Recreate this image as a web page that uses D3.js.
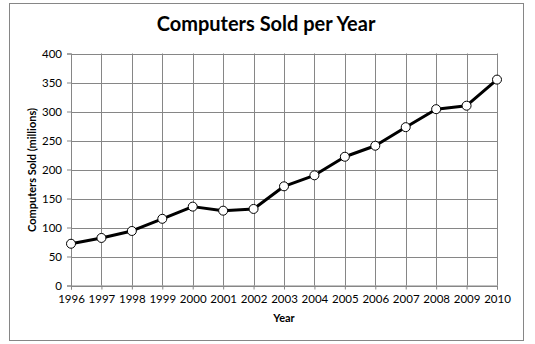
<!DOCTYPE html>
<html>
<head>
<meta charset="utf-8">
<script src="https://cdn.jsdelivr.net/npm/d3@7"></script>
<style>
  html, body { margin: 0; padding: 0; background: #fff; }
  svg { display: block; }
</style>
</head>
<body>
<svg id="chart" width="535" height="344"></svg>
<script>
// Computers sold per year (millions)
const years = [1996, 1997, 1998, 1999, 2000, 2001, 2002, 2003, 2004, 2005, 2006, 2007, 2008, 2009, 2010];
const sold = [72, 82, 94, 115, 136, 129, 132, 171, 190, 222, 241, 273, 304, 310, 355];
const yTicks = [0, 50, 100, 150, 200, 250, 300, 350, 400];

const svg = d3.select("#chart");
const font = "Lato, 'Open Sans', sans-serif";
const grid = "#868686";

const plot = { left: 71, right: 497, top: 53.5, bottom: 285.5 };

// Chart frame
svg.append("rect")
  .attr("x", 9.5).attr("y", 3.5)
  .attr("width", 514).attr("height", 337)
  .attr("fill", "#fff").attr("stroke", grid).attr("stroke-width", 1);

const x = d3.scalePoint().domain(years).range([plot.left, plot.right]);
const y = d3.scaleLinear().domain([0, 400]).range([plot.bottom, plot.top]);

// Horizontal gridlines + y axis labels
const yAxis = d3.axisLeft(y).tickValues(yTicks).tickSize(4).tickPadding(5);
const gy = svg.append("g").attr("transform", `translate(${plot.left},0)`).call(yAxis);
gy.select(".domain").attr("stroke", grid);
gy.selectAll(".tick line").attr("stroke", grid);
gy.selectAll(".tick text").attr("font-family", font).attr("font-size", 11.5).attr("fill", "#000");

svg.append("g").selectAll("line").data(yTicks).join("line")
  .attr("x1", plot.left).attr("x2", plot.right)
  .attr("y1", d => Math.round(y(d)) + 0.5).attr("y2", d => Math.round(y(d)) + 0.5)
  .attr("stroke", grid).attr("stroke-width", 1);

// Vertical gridlines + x axis labels
const xAxis = d3.axisBottom(x).tickSize(4).tickPadding(5);
const gx = svg.append("g").attr("transform", `translate(0,${plot.bottom})`).call(xAxis);
gx.select(".domain").attr("stroke", grid);
gx.selectAll(".tick line").attr("stroke", grid);
gx.selectAll(".tick text").attr("font-family", font).attr("font-size", 11.5).attr("fill", "#000");

svg.append("g").selectAll("line").data(years).join("line")
  .attr("x1", d => Math.round(x(d)) + 0.5).attr("x2", d => Math.round(x(d)) + 0.5)
  .attr("y1", plot.top).attr("y2", plot.bottom)
  .attr("stroke", grid).attr("stroke-width", 1);

// Data line
const line = d3.line().x((d, i) => x(years[i])).y(d => y(d));
svg.append("path")
  .datum(sold)
  .attr("d", line)
  .attr("fill", "none")
  .attr("stroke", "#000")
  .attr("stroke-width", 3)
  .attr("stroke-linejoin", "round");

// Markers
svg.append("g").selectAll("circle").data(sold).join("circle")
  .attr("cx", (d, i) => x(years[i]))
  .attr("cy", d => y(d))
  .attr("r", 4.5)
  .attr("fill", "#fff")
  .attr("stroke", "#000")
  .attr("stroke-width", 1);

// Title
svg.append("text")
  .attr("x", 266).attr("y", 31)
  .attr("text-anchor", "middle")
  .attr("font-family", font).attr("font-weight", "bold").attr("font-size", 20)
  .text("Computers Sold per Year");

// Axis titles
svg.append("text")
  .attr("x", 284).attr("y", 322)
  .attr("text-anchor", "middle")
  .attr("font-family", font).attr("font-weight", "bold").attr("font-size", 11)
  .text("Year");

svg.append("text")
  .attr("transform", "translate(36,170) rotate(-90)")
  .attr("text-anchor", "middle")
  .attr("font-family", font).attr("font-weight", "bold").attr("font-size", 11)
  .text("Computers Sold (millions)");
</script>
</body>
</html>
